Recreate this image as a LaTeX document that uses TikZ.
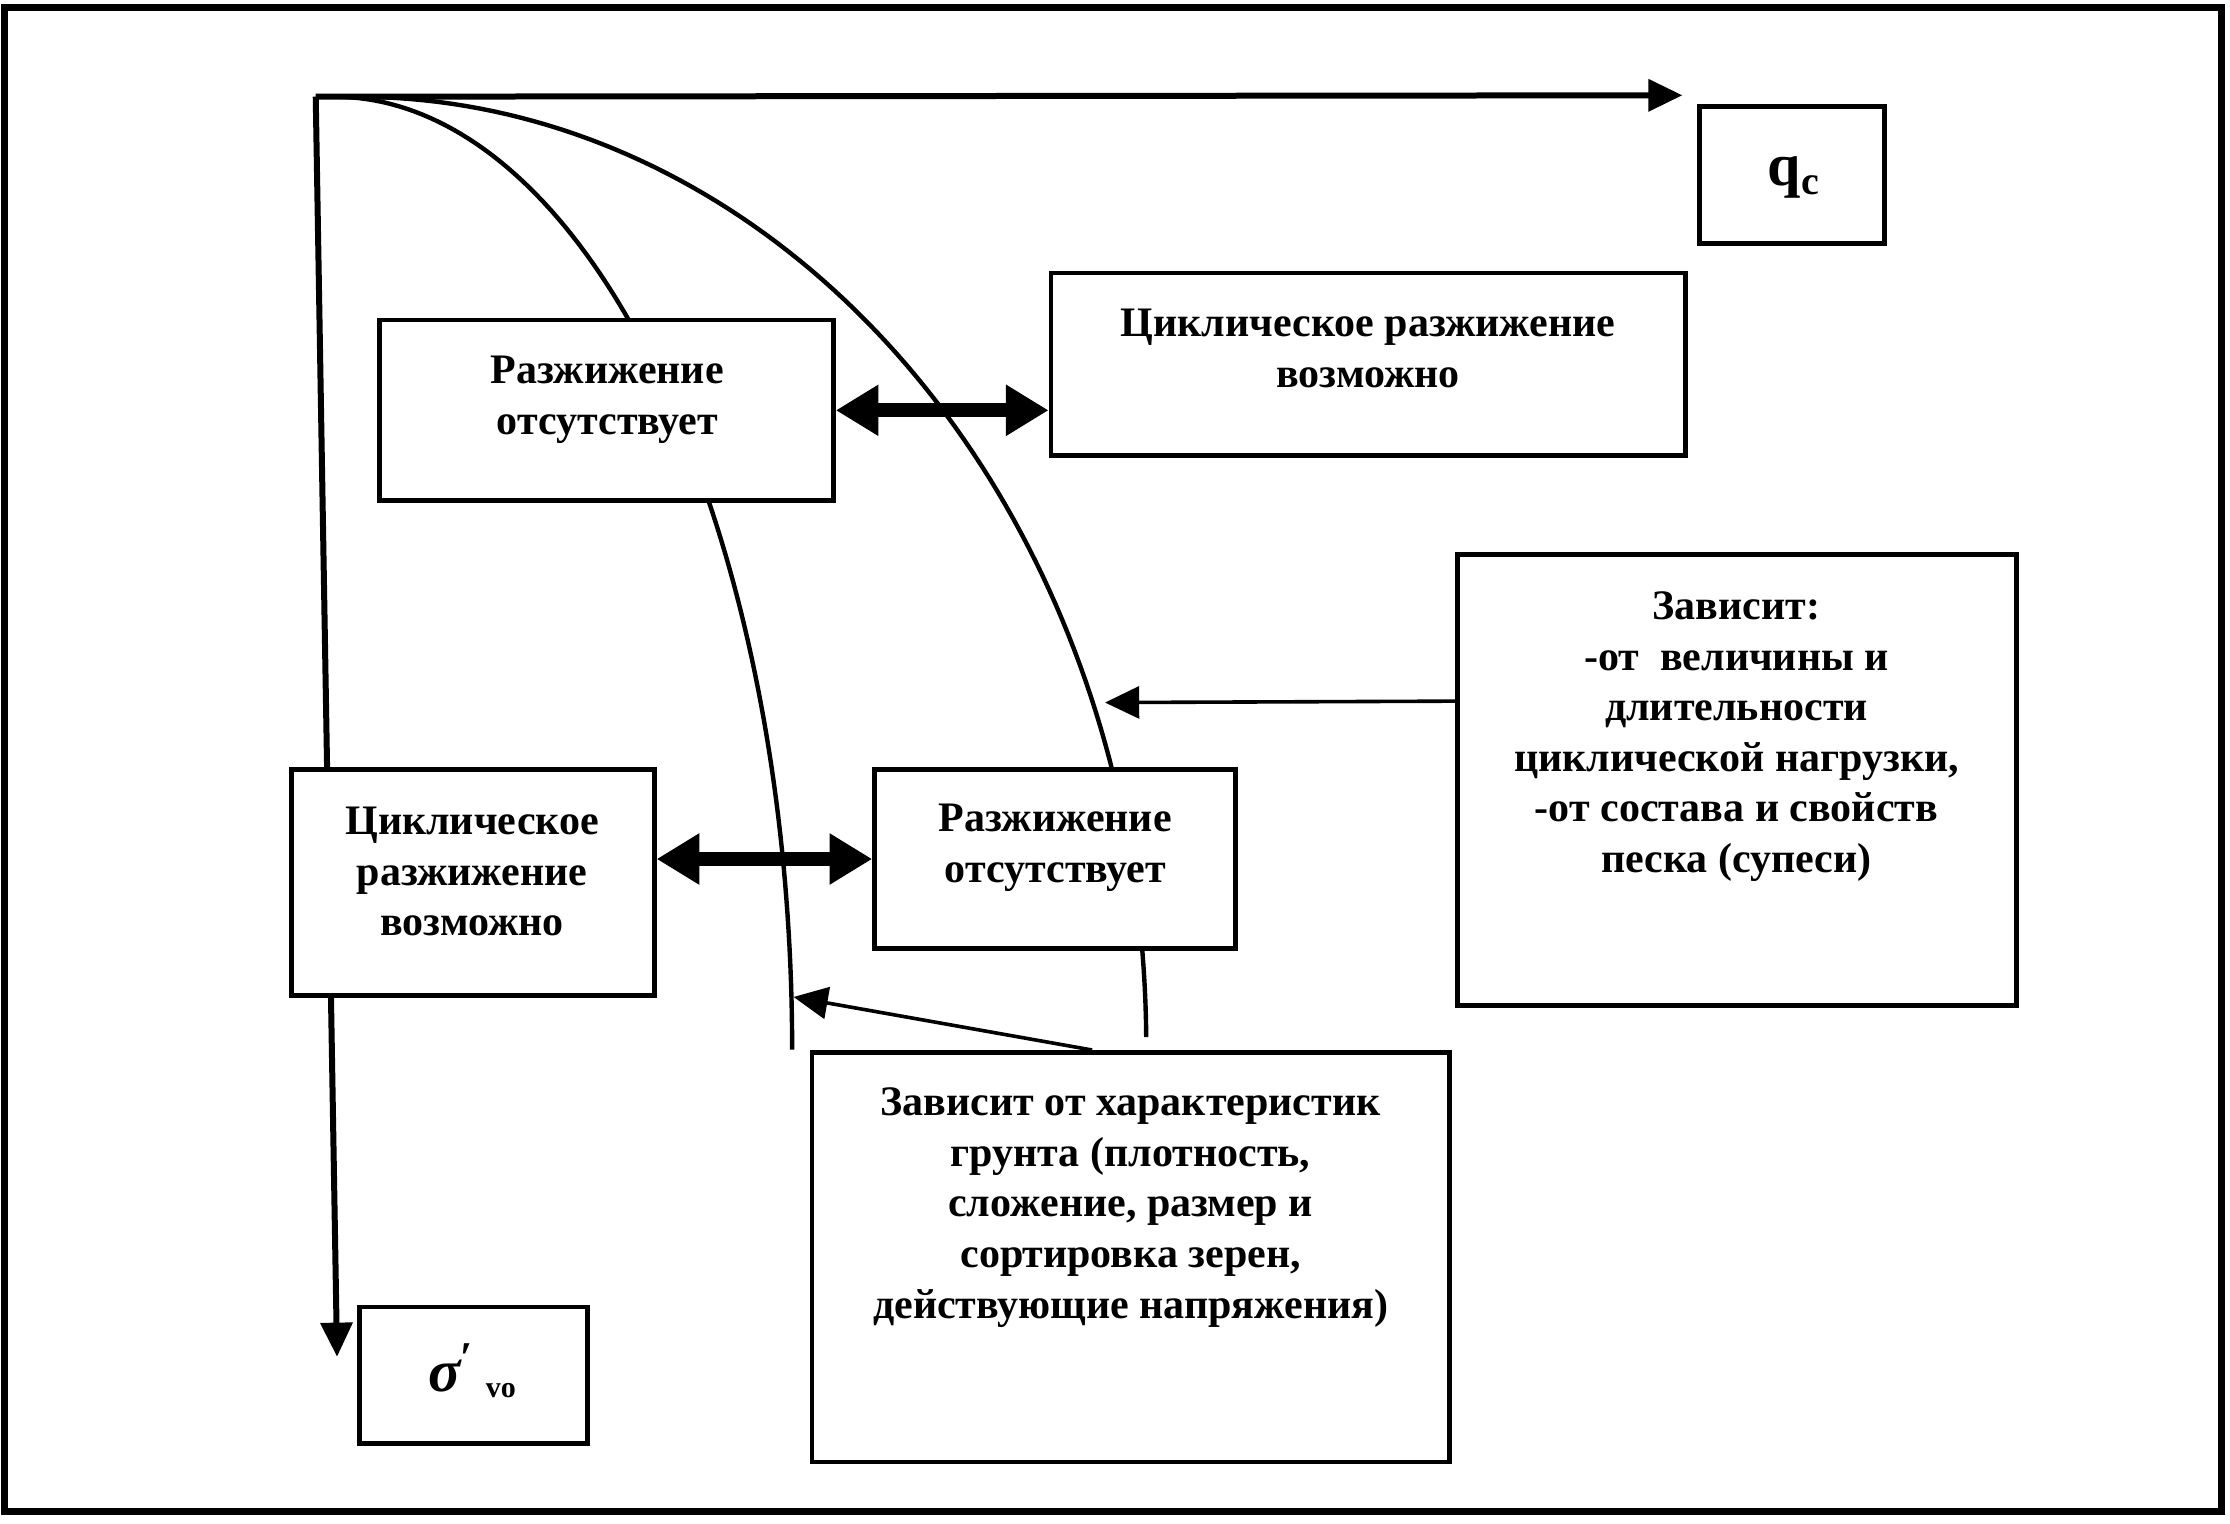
\documentclass[tikz,border=0pt]{standalone}
\usepackage{fontspec}
\setmainfont{Liberation Serif}
\usetikzlibrary{arrows.meta,fit,calc}
\begin{document}
\begin{tikzpicture}[x=0.025cm,y=-0.025cm,
  box/.style={draw, line width=2.4pt, fill=white, inner sep=0pt},
  txt/.style={align=center, font=\fontsize{21}{25.3}\selectfont\bfseries, inner sep=0pt},
  curve/.style={line width=2.2pt},
  thinarr/.style={line width=1.8pt, -{Triangle[length=0.6cm,width=0.56cm]}},
  axis/.style={line width=3pt, -{Triangle[length=0.6cm,width=0.55cm]}},
  dbl/.style={line width=7pt, {Triangle[length=0.75cm,width=0.85cm]}-{Triangle[length=0.75cm,width=0.85cm]}}
]
\useasboundingbox (0,0) rectangle (1568,1071);
\node[draw, line width=3.5pt, fit={(3,5) (1562,1063)}, inner sep=0pt] (frame) {};

% axes
\coordinate (O) at (222,68);
\coordinate (Xend) at (1183,67);
\coordinate (Yend) at (237,954);
\draw[axis] (O) -- (Xend);
\draw[axis] (O) -- (Yend);

% curves
\draw[curve] plot[domain=-90:0, samples=90] ({235+322*cos(\x)},{738+670*sin(\x)});
\draw[curve] plot[domain=-90:-0.5, samples=90] ({250+556*cos(\x)},{735+667*sin(\x)});

% boxes
\node[box, fit={(1195,75) (1325,171)}] (qc) {};
\node[box, fit={(267,225) (586,352)}] (A) {};
\node[box, fit={(739,192) (1185,320)}] (B) {};
\node[box, fit={(1025,390) (1418,707)}] (C) {};
\node[box, fit={(205,541) (460,700)}] (D) {};
\node[box, fit={(615,541) (869,667)}] (E) {};
\node[box, fit={(571,740) (1019,1028)}] (F) {};
\node[box, fit={(253,919) (413,1015)}] (S) {};

% texts
\node[txt] (qct) at (1261,125) {\fontsize{30}{30}\selectfont q\raisebox{-0.15em}{\fontsize{20}{20}\selectfont c}};
\node[txt] (St) at (332,964) {{\fontsize{30}{30}\selectfont\itshape σ}\raisebox{0.45em}{\fontsize{22}{22}\selectfont ′}\hspace{0.3em}\raisebox{-0.15em}{\fontsize{15}{15}\selectfont vo}};
\node[txt] (At) at (427,281) {Разжижение\\отсутствует};
\node[txt] (Bt) at (962,245) {Циклическое разжижение\\возможно};
\node[txt] (Ct) at (1221,518) {Зависит:\\-от~~величины и\\длительности\\циклической нагрузки,\\-от состава и свойств\\песка (супеси)};
\node[txt] (Dt) at (332,613) {Циклическое\\разжижение\\возможно};
\node[txt] (Et) at (742,596) {Разжижение\\отсутствует};
\node[txt] (Ft) at (795,849) {Зависит от характеристик\\грунта (плотность,\\сложение, размер и\\сортировка зерен,\\действующие напряжения)};

% thin arrows
\coordinate (y493) at (0,493);
\coordinate (t1) at (777,494);
\draw[thinarr] (C.west |- y493) -- (t1);
\coordinate (fa) at ($(F.north west)!0.44!(F.north east)$);
\coordinate (t2) at (558,701);
\draw[thinarr] (fa) -- (t2);

% double arrows
\draw[dbl] (A.east) -- (A.east -| B.west);
\draw[dbl] (E.west) -- (E.west -| D.east);
\end{tikzpicture}
\end{document}
